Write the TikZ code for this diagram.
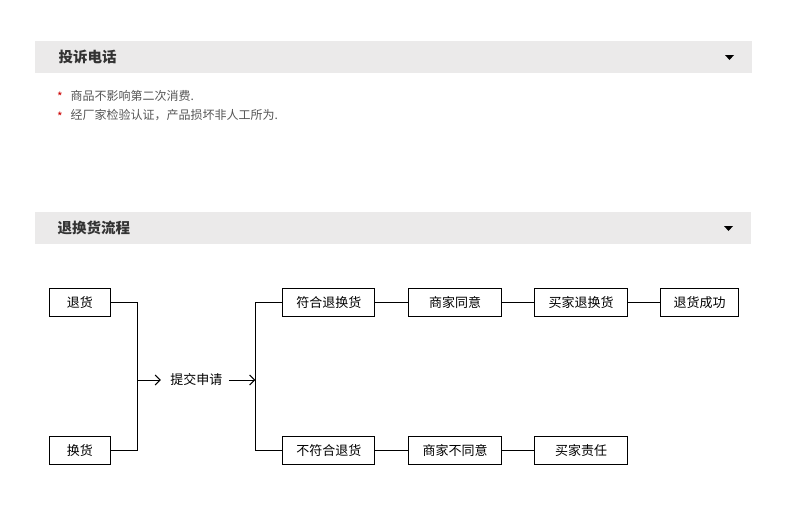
\documentclass[tikz,border=0pt]{standalone}
\usepackage{fontspec}
\setmainfont{Noto Sans CJK SC}
\usetikzlibrary{positioning,arrows.meta}
\definecolor{bargray}{HTML}{EBEAEA}
\definecolor{titlegray}{HTML}{333333}
\definecolor{textgray}{HTML}{555555}
\definecolor{starred}{HTML}{CC0000}
\begin{document}
\begin{tikzpicture}[x=1pt,y=-1pt,line width=1pt,node distance=32.6pt,
                    >={Straight Barb[length=5pt,width=10pt]},
                    flow box/.style={draw,minimum height=28pt,inner sep=0pt,font=\fontsize{13}{13}\selectfont},
                    bar title/.style={anchor=west,inner sep=0pt,text=titlegray,font=\fontsize{14.5}{14.5}\selectfont\bfseries},
                    note text/.style={anchor=west,inner sep=0pt,text=textgray,font=\fontsize{12}{12}\selectfont}]
  \useasboundingbox (0,0) rectangle (805,514);

  % header bars
  \fill[bargray] (35,41) rectangle (752,73);
  \fill[bargray] (35,212) rectangle (751,244);
  \node[bar title] (phone) at (58,57) {投诉电话};
  \node[bar title] (process) at (57,228) {退换货流程};
  \fill (725,55) -- (734,55) -- (729.5,60) -- cycle;
  \fill (724,226) -- (733,226) -- (728.5,231) -- cycle;

  % notes
  \node[anchor=center,text=starred,font=\fontsize{12}{12}\selectfont] (star1) at (60,97) {*};
  \node[anchor=center,text=starred,font=\fontsize{12}{12}\selectfont] (star2) at (60,117) {*};
  \node[note text] (note1) at (70,96) {商品不影响第二次消费.};
  \node[note text] (note2) at (70,115.5) {经厂家检验认证，产品损坏非人工所为.};

  % flow
  \node[flow box,minimum width=60.4pt] (tuihuo) at (79.8,302.8) {退货};
  \node[flow box,minimum width=60.4pt] (huanhuo) at (79.8,450.7) {换货};
  \node[inner xsep=6pt,font=\fontsize{13}{13}\selectfont] (tijiao) at (196.4,380) {提交申请};
  \node[flow box,minimum width=92pt] (fuhe) at (328.8,302.8) {符合退换货};
  \node[flow box,minimum width=92pt] (bufuhe) at (328.8,450.7) {不符合退货};
  \node[flow box,minimum width=92.4pt] (tongyi) [right=33pt of fuhe] {商家同意};
  \node[flow box,minimum width=92.4pt] (tuihuan) [right=of tongyi] {买家退换货};
  \node[flow box,minimum width=77.4pt] (chenggong) [right=of tuihuan] {退货成功};
  \node[flow box,minimum width=92.4pt] (butongyi) [right=33pt of bufuhe] {商家不同意};
  \node[flow box,minimum width=92.4pt] (zeren) [right=of butongyi] {买家责任};

  \coordinate (join) at (137.3,380);
  \coordinate (split) at (255.3,380);

  \draw (tuihuo.east) -| (join);
  \draw (huanhuo.east) -| (join);
  \draw[->,shorten >=3pt] (join) -- (tijiao.west);
  \draw[->] (tijiao.east) -- (split);
  \draw (fuhe.west) -| (split);
  \draw (bufuhe.west) -| (split);

  \path (fuhe) edge (tongyi)
        (tongyi) edge (tuihuan)
        (tuihuan) edge (chenggong)
        (bufuhe) edge (butongyi)
        (butongyi) edge (zeren);
\end{tikzpicture}
\end{document}
